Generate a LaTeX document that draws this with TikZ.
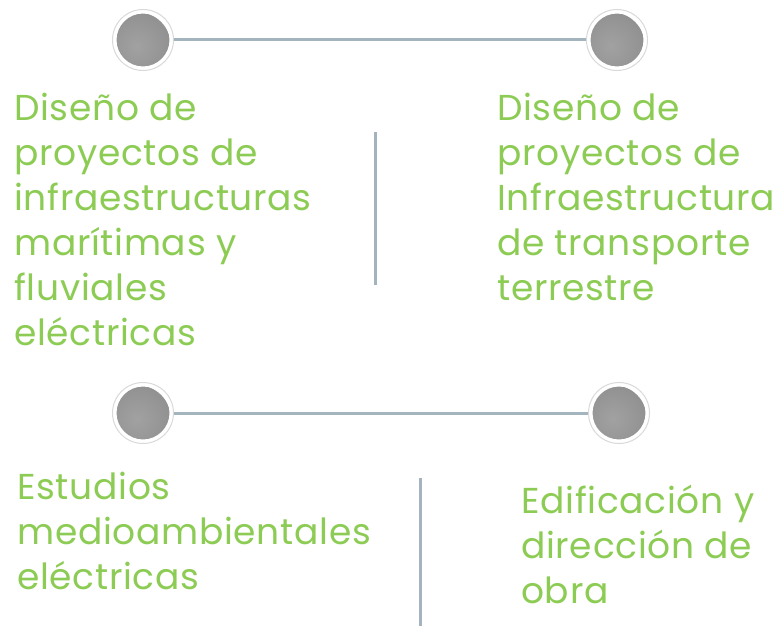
\documentclass[tikz,border=0pt]{standalone}
\usepackage{fontspec}
\setmainfont{Poppins}[LetterSpace=2]
\definecolor{txtgreen}{RGB}{141,204,84}
\definecolor{linegray}{RGB}{163,180,191}
\definecolor{ballgray}{RGB}{138,138,138}
\begin{document}
\begin{tikzpicture}[x=1pt,y=-1pt,
  ring/.style={circle,minimum size=61pt,inner sep=0pt,fill=white,draw=black!15,line width=1pt},
  conn/.style={draw=linegray,line width=3pt},
  label/.style={anchor=base west,align=left,inner sep=0pt,text=txtgreen,font=\fontsize{36}{45}\selectfont}]
\useasboundingbox (0,0) rectangle (781,626);
\fill[white] (0,0) rectangle (781,626);
\foreach \n/\x/\y in {a/143/40,b/617/40,c/143/413,d/619/413}{
  \node[ring] (\n) at (\x,\y) {};
  \shade[inner color=ballgray!80,outer color=ballgray!105!black] (\x-6,\y+6) circle (34);
  \fill[white] (\x,\y) circle (26.5) [even odd rule] (\x,\y) circle (45);
  \draw[black!15,line width=1pt] (\x,\y) circle (30.5);
}
\draw[conn] (a) -- (b);
\draw[conn] (c) -- (d);
\coordinate (v1t) at (375,132);
\coordinate (v1b) at (375,285);
\coordinate (v2t) at (420,478);
\coordinate (v2b) at (420,626);
\draw[conn] (v1t) -- (v1b);
\draw[conn] (v2t) -- (v2b);
\node[label] (t1) at (14,345) {Diseño de\\proyectos de\\infraestructuras\\marítimas y\\fluviales\\eléctricas};
\node[label] (t2) at (497,300) {Diseño de\\proyectos de\\Infraestructura\\de transporte\\terrestre};
\node[label] (t3) at (17,589) {Estudios\\medioambientales\\eléctricas};
\node[label] (t4) at (521,603) {Edificación y\\dirección de\\obra};
\end{tikzpicture}
\end{document}
